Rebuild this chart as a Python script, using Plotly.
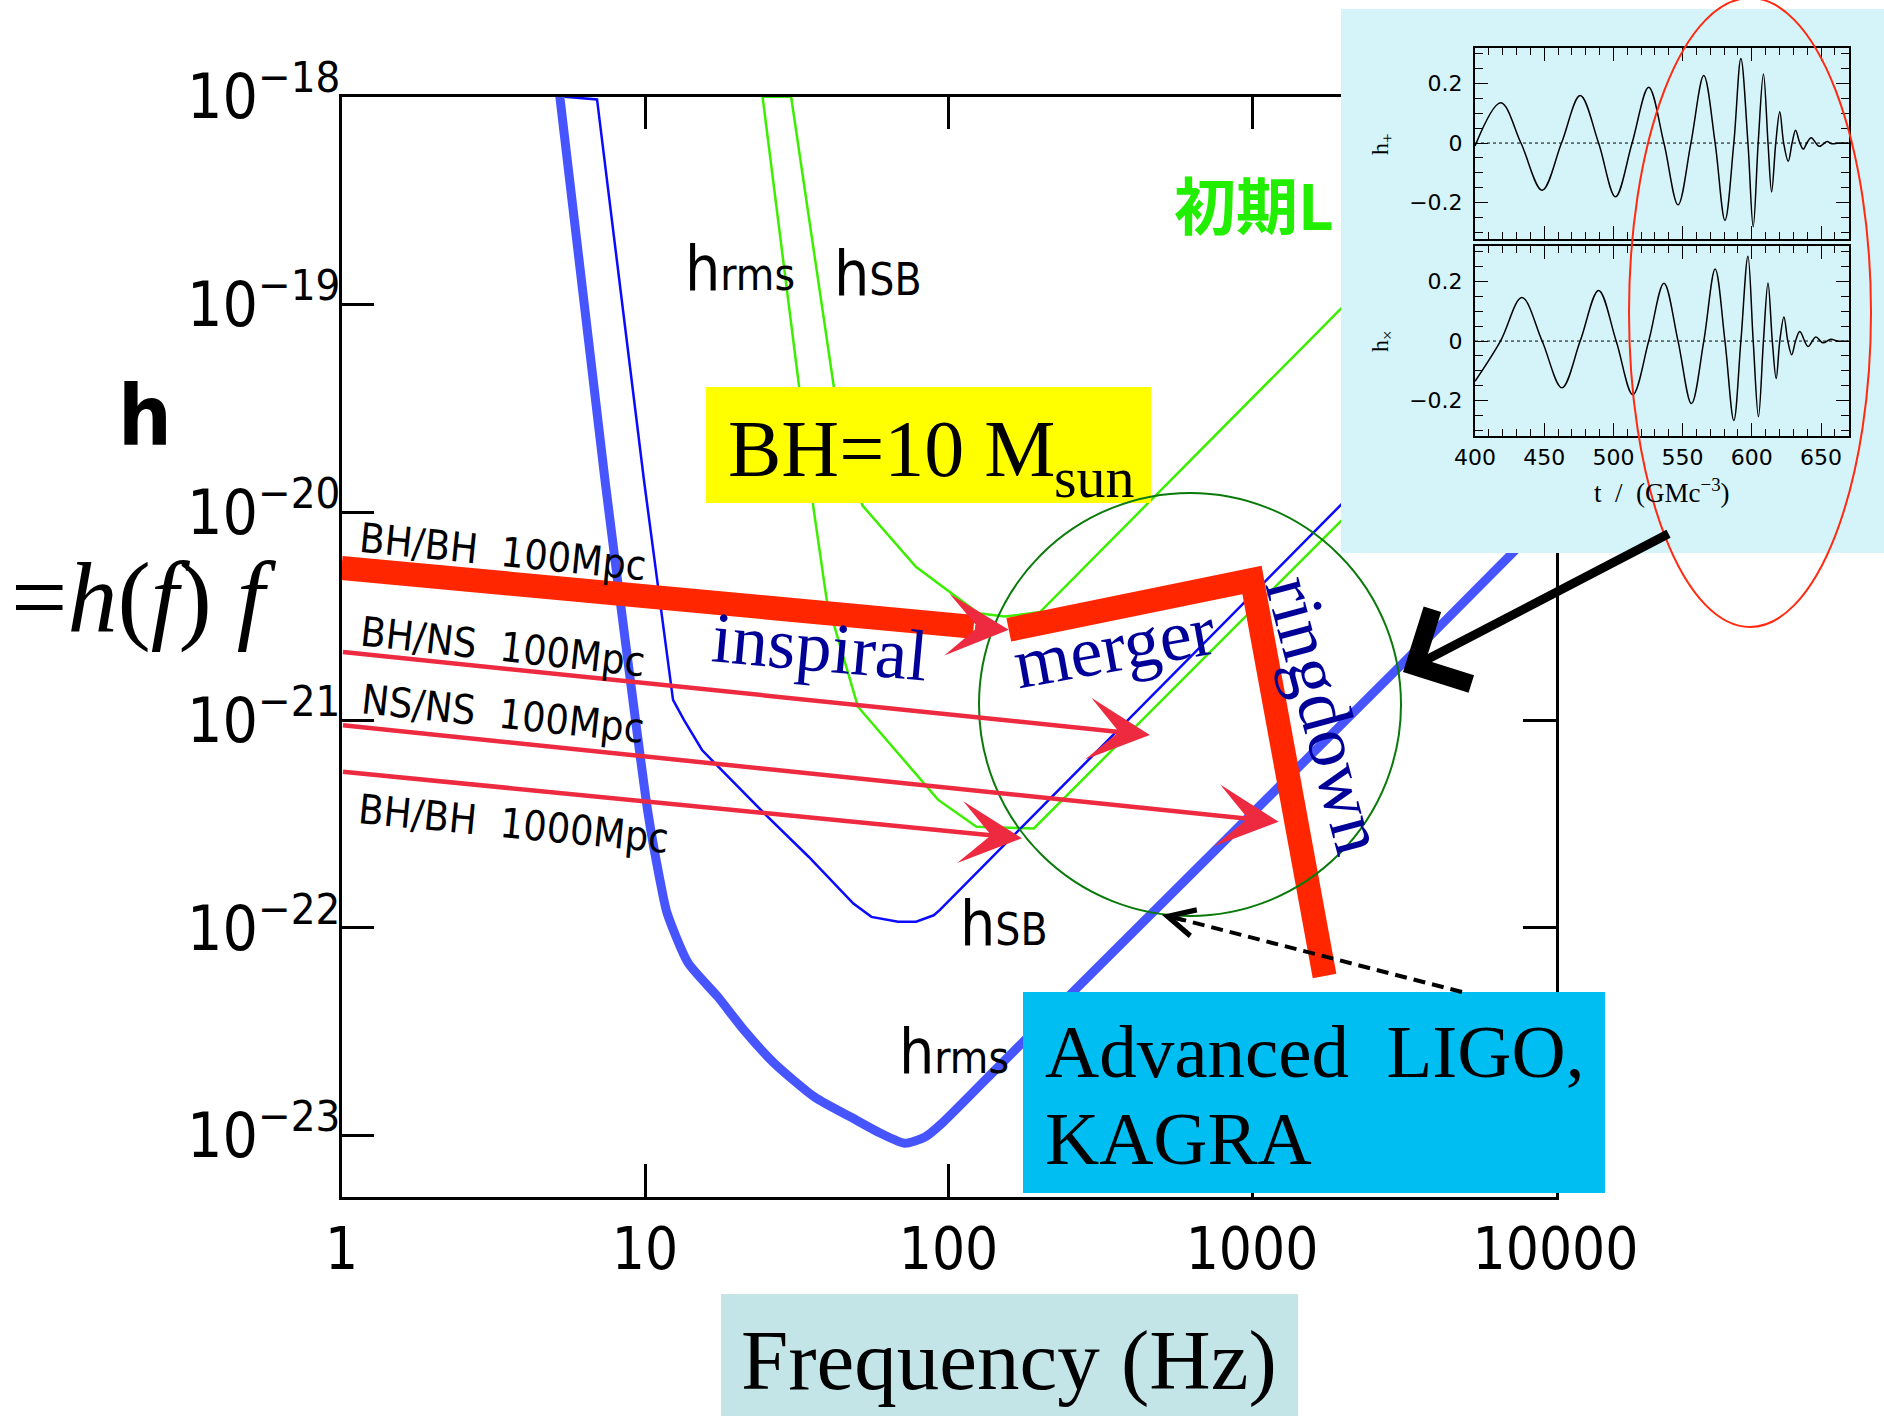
import numpy as np
import plotly.graph_objects as go

# ---------------------------------------------------------------------------
# Detector sensitivity curves, characteristic amplitude h = h(f) f  vs  f [Hz]
# ---------------------------------------------------------------------------
# Advanced LIGO / KAGRA, h_rms (thick curve)
adv_rms_f = [5.2, 7.38, 9.24, 10.23, 11.2, 11.82, 13.87, 17.4, 21.2, 26.6, 36.3, 49.6,
             59.5, 71.7, 83.7, 95.9, 146.6, 260.6, 3098, 10000]
adv_rms_h = [1.1e-18, 1.43e-20, 1.08e-21, 3.57e-22, 1.70e-22, 1.18e-22, 6.78e-23, 4.65e-23,
             3.22e-23, 2.24e-23, 1.53e-23, 1.19e-23, 1.03e-23, 9.2e-24, 9.86e-24, 1.16e-23,
             2.16e-23, 5.02e-23, 1.84e-21, 1.03e-20]

# Advanced LIGO / KAGRA, h_SB (thin curve)
adv_sb_f = [5.43, 6.95, 9.92, 12.09, 12.37, 13.45, 15.41, 17.01, 24.66, 34.6, 48.6, 55.7,
            68.2, 78.2, 89.4, 93.7, 1950, 10000]
adv_sb_h = [1.0e-18, 9.7e-19, 1.43e-20, 1.56e-21, 1.25e-21, 1.0e-21, 7.18e-22, 6.19e-22,
            3.57e-22, 2.20e-22, 1.31e-22, 1.13e-22, 1.07e-22, 1.07e-22, 1.15e-22, 1.22e-22,
            1.07e-20, 1.2e-19]

# Initial LIGO, h_rms and h_SB
ini_rms_f = [30.3, 24.4, 32.2, 35.8, 39.7, 50.3, 92.5, 123.7, 191.1, 10000]
ini_rms_h = [1.0e-18, 1.0e-18, 4.02e-20, 1.08e-20, 3.78e-21, 1.16e-21, 4.13e-22, 3.07e-22,
             3.01e-22, 9.8e-20]
ini_sb_f = [30.3, 41.9, 52.0, 78.1, 125.5, 153.5, 200.2, 10000]
ini_sb_h = [1.0e-18, 4.02e-20, 1.08e-20, 5.47e-21, 3.27e-21, 3.15e-21, 3.31e-21, 1.05e-18]

# BH/BH (10 Msun) at 100 Mpc: inspiral -> merger -> ringdown
inspiral_f = [1, 121]
inspiral_h = [5.40e-21, 2.81e-21]
inspiral_tip = (158, 2.72e-21)
merger_f = [158, 1000, 1734]
merger_h = [2.72e-21, 4.72e-21, 5.87e-23]

# Inspiral tracks of other sources (start at 1 Hz, arrow ends)
track_names = ["BH/NS\u00a0 100Mpc", "NS/NS\u00a0 100Mpc", "BH/BH\u00a0 1000Mpc"]
track_start_h = [2.13e-21, 9.46e-22, 5.65e-22]
track_end_f = [461, 1225, 174.7]
track_end_h = [8.47e-22, 3.24e-22, 2.70e-22]

# Axis ticks
freq_ticks = [1, 10, 100, 1000, 10000]
h_exponents = [-23, -22, -21, -20, -19, -18]

# Numerical-relativity waveform (inset), t in units of GM/c^3
t_plus = [400, 418.6, 433.2, 448.5, 462.5, 476, 489.3, 501.5, 513.5, 525.5, 536.5, 546.7,
          556, 565.3, 573.5, 580.6, 587, 592.1, 597.2, 601, 604.6, 608.4, 611.7, 614.3,
          617.3, 620.2, 623, 626.3, 629.1, 631.6, 634.7, 637.2, 639.8, 642.9, 648.7,
          654.3, 657.7, 662.8, 670]
h_plus = [-0.01, 0.135, 0, -0.158, 0, 0.159, 0, -0.18, 0, 0.187, 0, -0.207, 0, 0.226, 0,
          -0.259, 0, 0.283, 0, -0.28, 0, 0.231, 0, -0.164, 0, 0.105, 0, -0.061, 0, 0.043,
          0, -0.02, 0, 0.018, -0.011, 0.005, -0.002, 0, 0]
t_cross = [400, 418.4, 433.9, 448.5, 462.8, 476, 489.3, 502, 514, 525.5, 536.5, 546.7,
           556.4, 565.3, 573.5, 580.6, 587, 592.1, 597.2, 601, 604.8, 608.4, 611.7, 614.8,
           617.6, 620.2, 623.2, 626, 628.8, 631.6, 634.7, 640.6, 646.2, 651.3, 657.1,
           662, 670]
h_cross = [-0.135, 0, 0.146, 0, -0.157, 0, 0.17, 0, -0.18, 0, 0.194, 0, -0.21, 0, 0.242,
           0, -0.267, 0, 0.285, 0, -0.254, 0, 0.195, 0, -0.126, 0, 0.081, 0, -0.046, 0,
           0.032, -0.018, 0.014, -0.006, 0.006, 0, 0]
inset_t_ticks = [400, 450, 500, 550, 600, 650]
inset_h_ticks = [-0.2, 0, 0.2]

# ---------------------------------------------------------------------------
W, H = 1884, 1418


def fx(X):
    return X / W


def fy(Y):
    return 1 - Y / H


SANS_N = "DejaVu Sans Condensed, DejaVu Sans, sans-serif"
SERIF = "Liberation Serif, Times New Roman, serif"
BLUE_THICK = "#4655ff"
BLUE_THIN = "#0a0aff"
GREEN = "#3cee00"
RED_THICK = "#ff2600"
RED_THIN = "#ee2a40"
NAVY = "#000099"

fig = go.Figure()

# main plot curves
fig.add_trace(go.Scatter(x=ini_rms_f, y=ini_rms_h, mode="lines",
                         line=dict(color=GREEN, width=2.5)))
fig.add_trace(go.Scatter(x=ini_sb_f, y=ini_sb_h, mode="lines",
                         line=dict(color=GREEN, width=2.5)))
fig.add_trace(go.Scatter(x=adv_sb_f, y=adv_sb_h, mode="lines",
                         line=dict(color=BLUE_THIN, width=2.5)))
fig.add_trace(go.Scatter(x=adv_rms_f, y=adv_rms_h, mode="lines", line_shape="spline",
                         line=dict(color=BLUE_THICK, width=9, smoothing=0.6)))
fig.add_trace(go.Scatter(x=inspiral_f, y=inspiral_h, mode="lines",
                         line=dict(color=RED_THICK, width=24)))
fig.add_trace(go.Scatter(x=merger_f, y=merger_h, mode="lines",
                         line=dict(color=RED_THICK, width=24)))

# inset background panel (its own overlaying subplot so it hides what is under it)
fig.add_trace(go.Scatter(x=[0, 1, 1, 0, 0], y=[0, 0, 1, 1, 0], mode="lines", fill="toself",
                         fillcolor="#d4f4fa", line=dict(width=0), xaxis="x2", yaxis="y2",
                         hoverinfo="skip"))

# inset waveforms
for t, h, xa, ya in [(t_plus, h_plus, "x3", "y3"), (t_cross, h_cross, "x4", "y4")]:
    fig.add_trace(go.Scatter(x=[400, 670], y=[0, 0], mode="lines", xaxis=xa, yaxis=ya,
                             line=dict(color="black", width=1, dash="dot")))
    fig.add_trace(go.Scatter(x=t, y=h, mode="lines", line_shape="spline", xaxis=xa, yaxis=ya,
                             line=dict(color="black", width=1.5, smoothing=1.0)))

# ---------------------------------------------------------------------------
axis_common = dict(showline=True, linecolor="black", linewidth=2.5, mirror="ticks",
                   ticks="inside", ticklen=33, tickwidth=2.5, tickcolor="black",
                   showgrid=False, zeroline=False, automargin=False)
inset_common = dict(showline=True, linecolor="black", linewidth=2, mirror="ticks",
                    ticks="inside", ticklen=13, tickwidth=1.3, tickcolor="black",
                    showgrid=False, zeroline=False, automargin=False,
                    tickfont=dict(family="DejaVu Sans, sans-serif", size=22, color="black"))
inset_x = dict(range=[400, 670], tickvals=inset_t_ticks, ticktext=[str(v) for v in inset_t_ticks],
               domain=[fx(1475), fx(1848.7)],
               minor=dict(ticks="inside", ticklen=7, tickwidth=1.2, tick0=400, dtick=10,
                          tickcolor="black"), **inset_common)
inset_y = dict(range=[-0.32, 0.32], tickvals=inset_h_ticks,
               ticktext=["\u22120.2", "0", "0.2"], ticklabelstandoff=6,
               minor=dict(ticks="inside", ticklen=8, tickwidth=1.2, tick0=0, dtick=0.05,
                          tickcolor="black"), **inset_common)

fig.update_layout(
    width=W, height=H, margin=dict(l=0, r=0, t=0, b=0), autosize=False,
    template="none", showlegend=False,
    paper_bgcolor="white", plot_bgcolor="rgba(0,0,0,0)",
    xaxis=dict(type="log", range=[0, 4], domain=[fx(341.5), fx(1555.5)], anchor="y",
               tickvals=freq_ticks, ticktext=[str(v) for v in freq_ticks],
               ticklabelstandoff=0, tickfont=dict(family=SANS_N, size=58, color="black"),
               **axis_common),
    yaxis=dict(type="log", range=[-23.295, -18], domain=[fy(1197), fy(96.7)], anchor="x",
               tickvals=[10.0 ** e for e in h_exponents],
               ticktext=["10<sup>\u2212%d</sup>" % (-e) for e in h_exponents],
               ticklabelstandoff=-14, tickfont=dict(family=SANS_N, size=62, color="black"),
               **axis_common),
    xaxis2=dict(domain=[fx(1341), 1.0], range=[0, 1], visible=False, anchor="y2"),
    yaxis2=dict(domain=[fy(553), fy(9)], range=[0, 1], visible=False, anchor="x2"),
    xaxis3=dict(anchor="y3", showticklabels=False, **inset_x),
    yaxis3=dict(anchor="x3", domain=[fy(238.6), fy(47.5)], **inset_y),
    xaxis4=dict(anchor="y4", **inset_x),
    yaxis4=dict(anchor="x4", domain=[fy(436.4), fy(245.7)], **inset_y),
)

# ---------------------------------------------------------------------------
# boxes and outlines
shapes = [
    dict(type="rect", x0=fx(706), x1=fx(1151), y0=fy(503), y1=fy(387),
         fillcolor="#ffff00", line_width=0),
    dict(type="rect", x0=fx(1023), x1=fx(1605), y0=fy(1193), y1=fy(992),
         fillcolor="#00bdf2", line_width=0),
    dict(type="rect", x0=fx(721), x1=fx(1298), y0=fy(1416), y1=fy(1294),
         fillcolor="#c3e5e8", line_width=0),
    dict(type="circle", x0=fx(979), x1=fx(1401), y0=fy(916), y1=fy(493),
         line=dict(color="#0a7a0a", width=2), fillcolor="rgba(0,0,0,0)"),
    dict(type="circle", x0=fx(1629), x1=fx(1871), y0=fy(627), y1=fy(-2),
         line=dict(color="#ff2a10", width=2), fillcolor="rgba(0,0,0,0)"),
    dict(type="line", x0=fx(1462), y0=fy(992), x1=fx(1176), y1=fy(918),
         line=dict(color="black", width=4, dash="12px,7px")),
]
for s in shapes:
    s.update(xref="paper", yref="paper", layer="above")
    fig.add_shape(**s)

# ---------------------------------------------------------------------------
# arrows along the source tracks (data coordinates, log axes use log10 values)
for sh, ef, eh in zip(track_start_h, track_end_f, track_end_h):
    fig.add_annotation(x=np.log10(ef), y=np.log10(eh), ax=0.0, ay=np.log10(sh),
                       xref="x", yref="y", axref="x", ayref="y", text="", showarrow=True,
                       arrowhead=3, arrowsize=2.3, arrowwidth=4.5, arrowcolor=RED_THIN,
                       standoff=0)
fig.add_annotation(x=np.log10(inspiral_tip[0]), y=np.log10(inspiral_tip[1]),
                   ax=np.log10(inspiral_f[-1]), ay=np.log10(inspiral_h[-1]),
                   xref="x", yref="y", axref="x", ayref="y", text="", showarrow=True,
                   arrowhead=3, arrowsize=2.3, arrowwidth=4.5, arrowcolor=RED_THIN, standoff=0)

# pointer arrows
fig.add_annotation(x=fx(1403), y=fy(672), xref="paper", yref="paper", ax=267, ay=-139,
                   text="", showarrow=True, arrowhead=4, arrowsize=1.8, arrowwidth=9,
                   arrowcolor="black", standoff=0)
fig.add_annotation(x=fx(1162), y=fy(915), xref="paper", yref="paper", ax=24, ay=6,
                   text="", showarrow=True, arrowhead=5, arrowsize=1.5, arrowwidth=3.5,
                   arrowcolor="black", standoff=0)


def label(text, X, Y, size, family, color="black", angle=0, xanchor="center", weight=None):
    font = dict(family=family, size=size, color=color)
    if weight:
        font["weight"] = weight
    fig.add_annotation(x=fx(X), y=fy(Y), xref="paper", yref="paper", text=text,
                       showarrow=False, font=font, textangle=angle, xanchor=xanchor,
                       yanchor="middle")


# axis titles
label("h", 145, 416, 84, SANS_N, weight="bold")
label("=<i>h</i>(<i>f</i>)\u00a0<i>f</i>", 144, 597, 100, SERIF)
label("Frequency (Hz)", 1009, 1360, 85, SERIF)

# source labels
label("BH/BH\u00a0 100Mpc", 503, 552, 41, SANS_N, angle=5.7)
for name, yc, ang, xc in zip(track_names, [647, 714, 824], [6.3, 6.0, 5.5], [503, 503, 513]):
    label(name, xc, yc, 41, SANS_N, angle=ang)

# curve labels
small = "<span style='font-size:44px'>%s</span>"
label("h" + small % "rms", 683, 268, 62, SANS_N, xanchor="left")
label("h" + small % "SB", 832, 273, 62, SANS_N, xanchor="left")
label("h" + small % "SB", 958, 923, 62, SANS_N, xanchor="left")
label("h" + small % "rms", 897, 1051, 62, SANS_N, xanchor="left")
label("初期L", 1254, 203, 62, "Noto Sans CJK JP", color="#22ee00", weight="bold")

# phase labels
label("inspiral", 820, 647, 72, SERIF, color=NAVY, angle=5.2)
label("merger", 1114, 647, 72, SERIF, color=NAVY, angle=-10.2)
label("ringdown", 1326, 715, 74, SERIF, color=NAVY, angle=75)

# boxed captions
label("BH=10 M", 726, 449, 80, SERIF, xanchor="left")
label("sun", 1052, 477, 58, SERIF, xanchor="left")
label("Advanced\u00a0 LIGO,", 1043, 1051, 75, SERIF, xanchor="left")
label("KAGRA", 1043, 1138, 75, SERIF, xanchor="left")

# inset axis titles
label("h<sub>+</sub>", 1382, 145, 24, SERIF, angle=-90)
label("h<sub>\u00d7</sub>", 1382, 342, 24, SERIF, angle=-90)
label("t\u00a0 /\u00a0 (GMc<sup>\u22123</sup>)", 1662, 491, 27, SERIF)

fig.write_html("out.html")
